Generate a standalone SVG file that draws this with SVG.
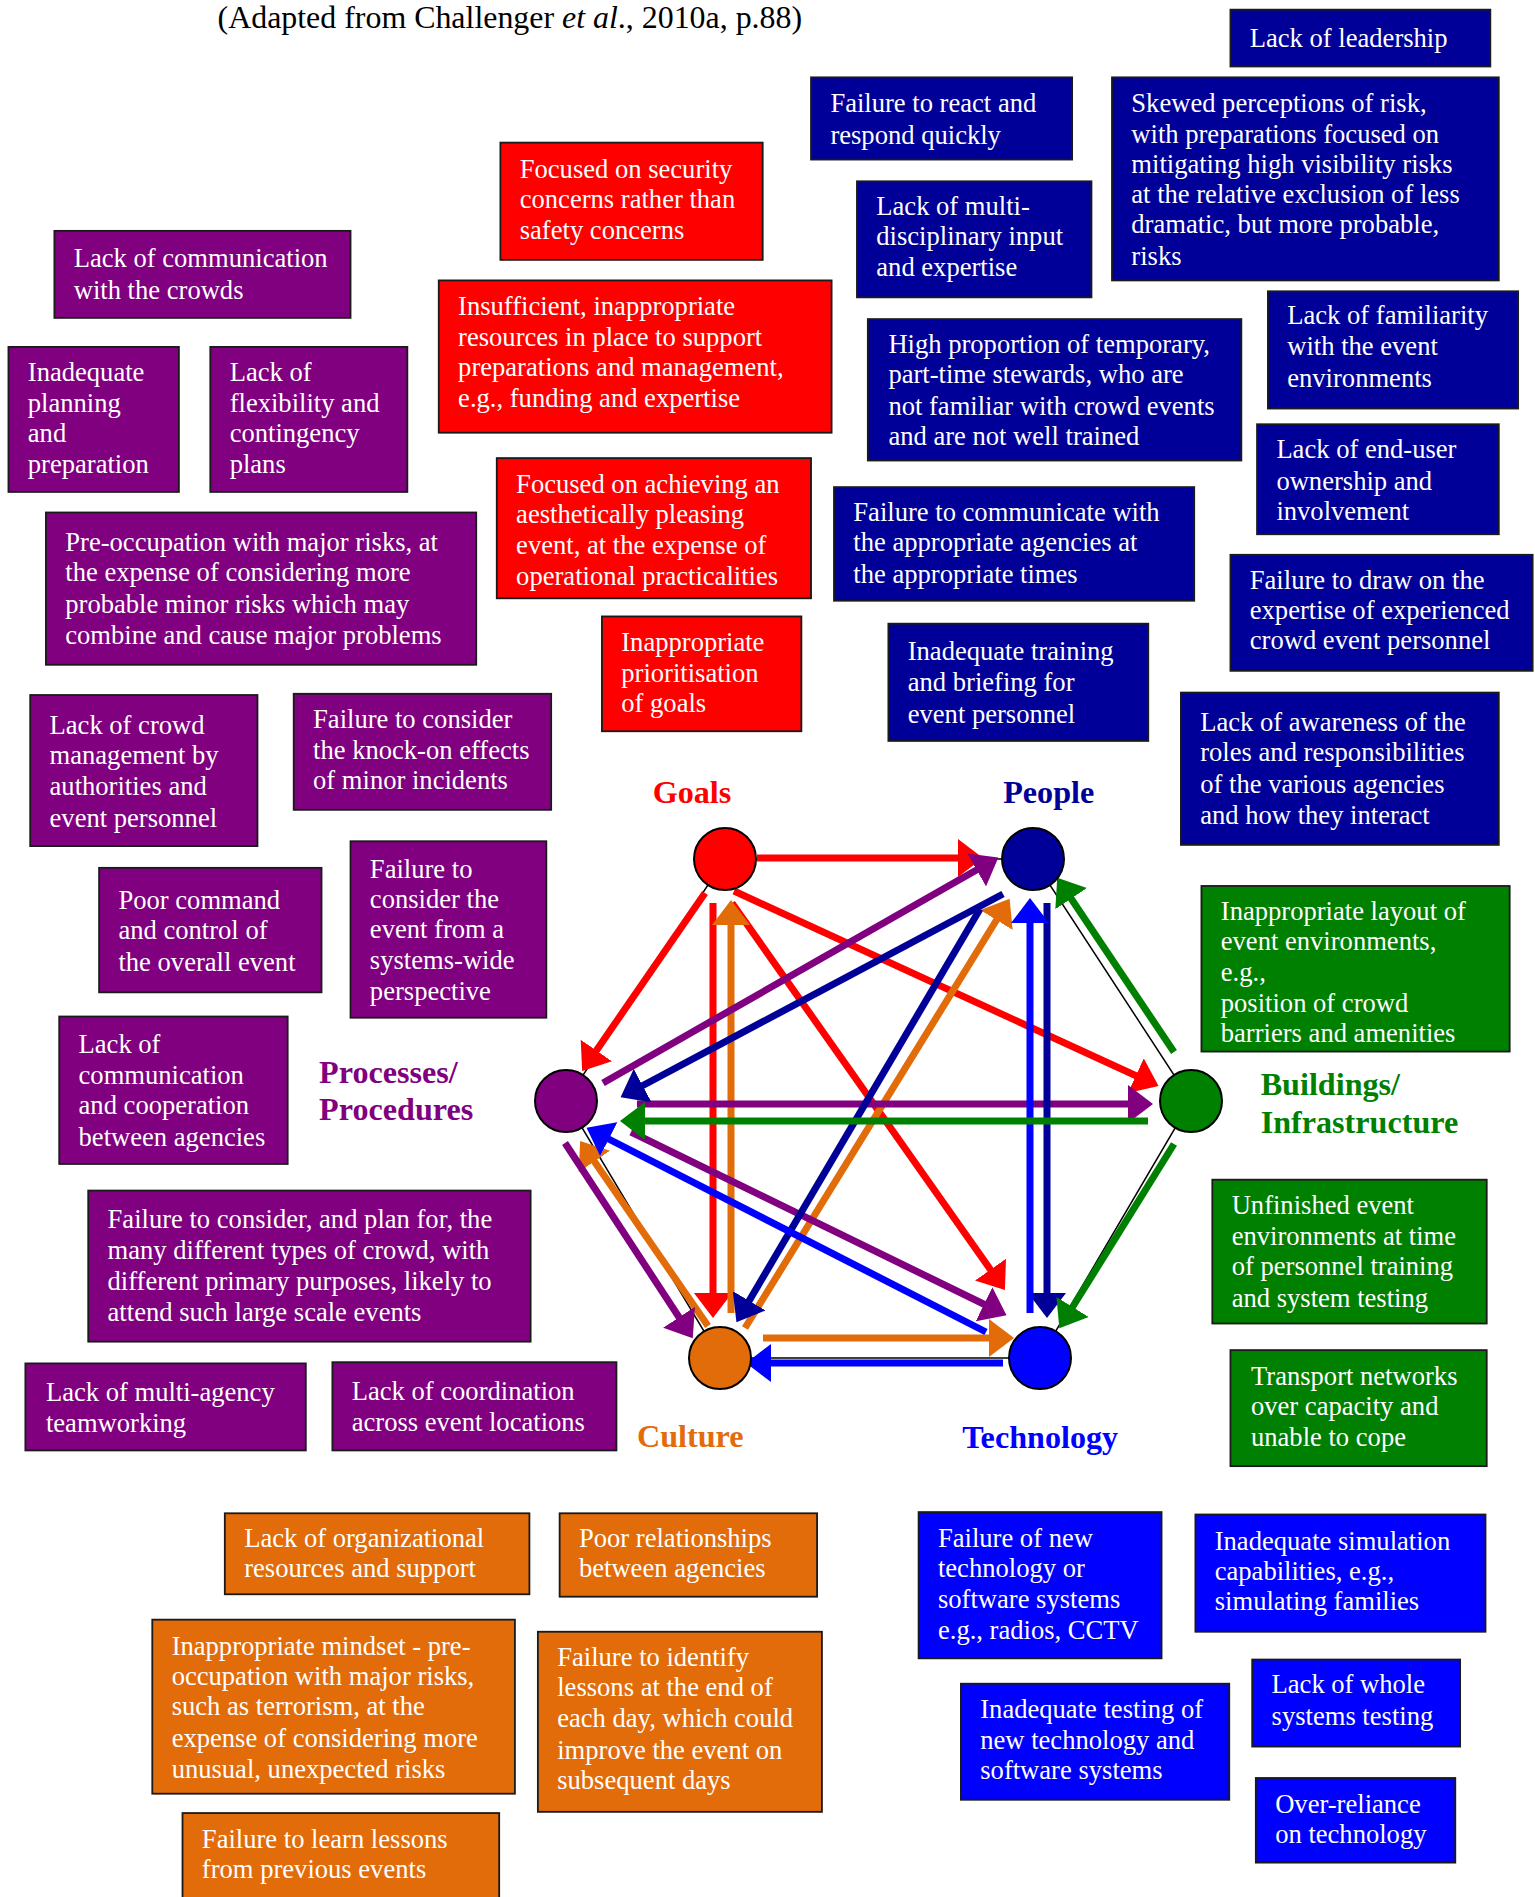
<svg xmlns="http://www.w3.org/2000/svg" width="1535" height="1897" viewBox="0 0 1535 1897">
<style>
.t{font-family:"Liberation Serif","Times New Roman",serif;font-size:22px;fill:#fff}
.lb{font-family:"Liberation Serif","Times New Roman",serif;font-size:26.6px;font-weight:bold}
.title{font-family:"Liberation Serif","Times New Roman",serif;font-size:26.4px;fill:#000}
.bx{stroke:#1a1a1a;stroke-width:1.5}
.pu{fill:#800080}.re{fill:#FF0000}.nv{fill:#000099}.gr{fill:#008000}.or{fill:#E36C0A}.bl{fill:#0000FF}
.c{stroke-width:7;fill:none}
.hex{stroke:#000;stroke-width:1.5;fill:none}
.node{stroke:#000;stroke-width:2}
</style>
<defs>
<marker id="mr" markerUnits="userSpaceOnUse" markerWidth="26" markerHeight="38" refX="20" refY="19" orient="auto"><path d="M0,0 L25,19 L0,38 Z" fill="#FF0000"/></marker>
<marker id="mo" markerUnits="userSpaceOnUse" markerWidth="26" markerHeight="38" refX="20" refY="19" orient="auto"><path d="M0,0 L25,19 L0,38 Z" fill="#E36C0A"/></marker>
<marker id="mp" markerUnits="userSpaceOnUse" markerWidth="26" markerHeight="38" refX="20" refY="19" orient="auto"><path d="M0,0 L25,19 L0,38 Z" fill="#800080"/></marker>
<marker id="mn" markerUnits="userSpaceOnUse" markerWidth="26" markerHeight="38" refX="20" refY="19" orient="auto"><path d="M0,0 L25,19 L0,38 Z" fill="#000099"/></marker>
<marker id="mb" markerUnits="userSpaceOnUse" markerWidth="26" markerHeight="38" refX="20" refY="19" orient="auto"><path d="M0,0 L25,19 L0,38 Z" fill="#0000FF"/></marker>
<marker id="mg" markerUnits="userSpaceOnUse" markerWidth="26" markerHeight="38" refX="20" refY="19" orient="auto"><path d="M0,0 L25,19 L0,38 Z" fill="#008000"/></marker>
</defs>
<rect width="1535" height="1897" fill="#fff"/>

<g id="hexagon">
<path class="hex" d="M725,859 L1033,859 L1191,1101 L1040,1358 L720,1358 L566,1101 Z"/>
</g>

<g id="connectors">
<path class="c" stroke="#FF0000" marker-end="url(#mr)" d="M757,858 L978,858"/>
<path class="c" stroke="#FF0000" marker-end="url(#mr)" d="M705,893 L585,1067"/>
<path class="c" stroke="#FF0000" marker-end="url(#mr)" d="M713,903 L713,1313"/>
<path class="c" stroke="#FF0000" marker-end="url(#mr)" d="M734,891 L1154,1084"/>
<path class="c" stroke="#FF0000" marker-end="url(#mr)" d="M732,903 L1002,1286"/>
<path class="c" stroke="#E36C0A" marker-end="url(#mo)" d="M731,1313 L731,905"/>
<path class="c" stroke="#E36C0A" marker-end="url(#mo)" d="M745,1328 L1007,903"/>
<path class="c" stroke="#E36C0A" marker-end="url(#mo)" d="M708,1326 L583,1145"/>
<path class="c" stroke="#E36C0A" marker-end="url(#mo)" d="M763,1338 L1009,1338"/>
<path class="c" stroke="#800080" marker-end="url(#mp)" d="M603,1083 L994,860"/>
<path class="c" stroke="#800080" marker-end="url(#mp)" d="M637,1104 L1148,1104"/>
<path class="c" stroke="#800080" marker-end="url(#mp)" d="M631,1132 L1002,1313"/>
<path class="c" stroke="#800080" marker-end="url(#mp)" d="M565,1143 L690,1334"/>
<path class="c" stroke="#000099" marker-end="url(#mn)" d="M1003,894 L625,1095"/>
<path class="c" stroke="#000099" marker-end="url(#mn)" d="M980,909 L739,1318"/>
<path class="c" stroke="#000099" marker-end="url(#mn)" d="M1047,903 L1047,1313"/>
<path class="c" stroke="#0000FF" marker-end="url(#mb)" d="M1030,1313 L1030,903"/>
<path class="c" stroke="#0000FF" marker-end="url(#mb)" d="M986,1332 L591,1130"/>
<path class="c" stroke="#0000FF" marker-end="url(#mb)" d="M1003,1363 L751,1363"/>
<path class="c" stroke="#008000" marker-end="url(#mg)" d="M1174,1052 L1060,882"/>
<path class="c" stroke="#008000" marker-end="url(#mg)" d="M1148,1121 L625,1121"/>
<path class="c" stroke="#008000" marker-end="url(#mg)" d="M1174,1144 L1062,1324"/>
</g>

<g id="node-goals"><circle class="node" cx="725" cy="859" r="31" fill="#FF0000"/></g>
<g id="node-people"><circle class="node" cx="1033" cy="859" r="31" fill="#000099"/></g>
<g id="node-processes"><circle class="node" cx="566" cy="1101" r="31" fill="#800080"/></g>
<g id="node-buildings"><circle class="node" cx="1191" cy="1101" r="31" fill="#008000"/></g>
<g id="node-culture"><circle class="node" cx="720" cy="1358" r="31" fill="#E36C0A"/></g>
<g id="node-technology"><circle class="node" cx="1040" cy="1358" r="31" fill="#0000FF"/></g>

<g transform="scale(1.2087)">
<text class="title" x="180" y="23">(Adapted from Challenger <tspan font-style="italic">et al</tspan>., 2010a, p.88)</text>

<g id="label-goals"><text class="lb" x="540" y="664" fill="#FF0000">Goals</text></g>
<g id="label-people"><text class="lb" x="830" y="664" fill="#000099">People</text></g>
<g id="label-processes"><text class="lb" x="264" y="896" fill="#800080">Processes/</text><text class="lb" x="264" y="927" fill="#800080">Procedures</text></g>
<g id="label-buildings"><text class="lb" x="1043" y="906" fill="#008000">Buildings/</text><text class="lb" x="1043" y="937" fill="#008000">Infrastructure</text></g>
<g id="label-culture"><text class="lb" x="527" y="1197" fill="#E36C0A">Culture</text></g>
<g id="label-technology"><text class="lb" x="796" y="1198" fill="#0000FF">Technology</text></g>

<!-- Purple -->
<g id="p1"><rect class="bx pu" x="45" y="191" width="245" height="72"/><text class="t" x="61" y="221">Lack of communication</text><text class="t" x="61" y="247">with the crowds</text></g>
<g id="p2"><rect class="bx pu" x="7" y="287" width="141" height="120"/><text class="t" x="23" y="315">Inadequate</text><text class="t" x="23" y="341">planning</text><text class="t" x="23" y="366">and</text><text class="t" x="23" y="391">preparation</text></g>
<g id="p3"><rect class="bx pu" x="174" y="287" width="163" height="120"/><text class="t" x="190" y="315">Lack of</text><text class="t" x="190" y="341">flexibility and</text><text class="t" x="190" y="366">contingency</text><text class="t" x="190" y="391">plans</text></g>
<g id="p4"><rect class="bx pu" x="38" y="424" width="356" height="126"/><text class="t" x="54" y="456">Pre-occupation with major risks, at</text><text class="t" x="54" y="481">the expense of considering more</text><text class="t" x="54" y="507">probable minor risks which may</text><text class="t" x="54" y="533">combine and cause major problems</text></g>
<g id="p5"><rect class="bx pu" x="25" y="575" width="188" height="125"/><text class="t" x="41" y="607">Lack of crowd</text><text class="t" x="41" y="632">management by</text><text class="t" x="41" y="658">authorities and</text><text class="t" x="41" y="684">event personnel</text></g>
<g id="p6"><rect class="bx pu" x="243" y="574" width="213" height="96"/><text class="t" x="259" y="602">Failure to consider</text><text class="t" x="259" y="628">the knock-on effects</text><text class="t" x="259" y="653">of minor incidents</text></g>
<g id="p7"><rect class="bx pu" x="82" y="718" width="184" height="103"/><text class="t" x="98" y="752">Poor command</text><text class="t" x="98" y="777">and control of</text><text class="t" x="98" y="803">the overall event</text></g>
<g id="p8"><rect class="bx pu" x="290" y="696" width="162" height="146"/><text class="t" x="306" y="726">Failure to</text><text class="t" x="306" y="751">consider the</text><text class="t" x="306" y="776">event from a</text><text class="t" x="306" y="802">systems-wide</text><text class="t" x="306" y="827">perspective</text></g>
<g id="p9"><rect class="bx pu" x="49" y="841" width="189" height="122"/><text class="t" x="65" y="871">Lack of</text><text class="t" x="65" y="897">communication</text><text class="t" x="65" y="922">and cooperation</text><text class="t" x="65" y="948">between agencies</text></g>
<g id="p10"><rect class="bx pu" x="73" y="985" width="366" height="125"/><text class="t" x="89" y="1016">Failure to consider, and plan for, the</text><text class="t" x="89" y="1042">many different types of crowd, with</text><text class="t" x="89" y="1067">different primary purposes, likely to</text><text class="t" x="89" y="1093">attend such large scale events</text></g>
<g id="p11"><rect class="bx pu" x="21" y="1128" width="232" height="72"/><text class="t" x="38" y="1159">Lack of multi-agency</text><text class="t" x="38" y="1185">teamworking</text></g>
<g id="p12"><rect class="bx pu" x="275" y="1127" width="235" height="73"/><text class="t" x="291" y="1158">Lack of coordination</text><text class="t" x="291" y="1184">across event locations</text></g>

<!-- Red -->
<g id="r1"><rect class="bx re" x="414" y="118" width="217" height="97"/><text class="t" x="430" y="147">Focused on security</text><text class="t" x="430" y="172">concerns rather than</text><text class="t" x="430" y="198">safety concerns</text></g>
<g id="r2"><rect class="bx re" x="363" y="232" width="325" height="126"/><text class="t" x="379" y="261">Insufficient, inappropriate</text><text class="t" x="379" y="286">resources in place to support</text><text class="t" x="379" y="311">preparations and management,</text><text class="t" x="379" y="337">e.g., funding and expertise</text></g>
<g id="r3"><rect class="bx re" x="411" y="379" width="260" height="116"/><text class="t" x="427" y="408">Focused on achieving an</text><text class="t" x="427" y="433">aesthetically pleasing</text><text class="t" x="427" y="458">event, at the expense of</text><text class="t" x="427" y="484">operational practicalities</text></g>
<g id="r4"><rect class="bx re" x="498" y="510" width="165" height="95"/><text class="t" x="514" y="539">Inappropriate</text><text class="t" x="514" y="564">prioritisation</text><text class="t" x="514" y="589">of goals</text></g>

<!-- Navy -->
<g id="n1"><rect class="bx nv" x="1018" y="8" width="215" height="47"/><text class="t" x="1034" y="39">Lack of leadership</text></g>
<g id="n2"><rect class="bx nv" x="671" y="64" width="216" height="68"/><text class="t" x="687" y="93">Failure to react and</text><text class="t" x="687" y="119">respond quickly</text></g>
<g id="n3"><rect class="bx nv" x="920" y="64" width="320" height="168"/><text class="t" x="936" y="93">Skewed perceptions of risk,</text><text class="t" x="936" y="118">with preparations focused on</text><text class="t" x="936" y="143">mitigating high visibility risks</text><text class="t" x="936" y="168">at the relative exclusion of less</text><text class="t" x="936" y="193">dramatic, but more probable,</text><text class="t" x="936" y="219">risks</text></g>
<g id="n4"><rect class="bx nv" x="709" y="150" width="194" height="96"/><text class="t" x="725" y="178">Lack of multi-</text><text class="t" x="725" y="203">disciplinary input</text><text class="t" x="725" y="228">and expertise</text></g>
<g id="n5"><rect class="bx nv" x="718" y="264" width="309" height="117"/><text class="t" x="735" y="292">High proportion of temporary,</text><text class="t" x="735" y="317">part-time stewards, who are</text><text class="t" x="735" y="343">not familiar with crowd events</text><text class="t" x="735" y="368">and are not well trained</text></g>
<g id="n6"><rect class="bx nv" x="1049" y="241" width="207" height="97"/><text class="t" x="1065" y="268">Lack of familiarity</text><text class="t" x="1065" y="294">with the event</text><text class="t" x="1065" y="320">environments</text></g>
<g id="n7"><rect class="bx nv" x="1040" y="351" width="200" height="91"/><text class="t" x="1056" y="379">Lack of end-user</text><text class="t" x="1056" y="405">ownership and</text><text class="t" x="1056" y="430">involvement</text></g>
<g id="n8"><rect class="bx nv" x="690" y="403" width="298" height="94"/><text class="t" x="706" y="431">Failure to communicate with</text><text class="t" x="706" y="456">the appropriate agencies at</text><text class="t" x="706" y="482">the appropriate times</text></g>
<g id="n9"><rect class="bx nv" x="1018" y="459" width="250" height="96"/><text class="t" x="1034" y="487">Failure to draw on the</text><text class="t" x="1034" y="512">expertise of experienced</text><text class="t" x="1034" y="537">crowd event personnel</text></g>
<g id="n10"><rect class="bx nv" x="735" y="516" width="215" height="97"/><text class="t" x="751" y="546">Inadequate training</text><text class="t" x="751" y="572">and briefing for</text><text class="t" x="751" y="598">event personnel</text></g>
<g id="n11"><rect class="bx nv" x="977" y="573" width="263" height="126"/><text class="t" x="993" y="605">Lack of awareness of the</text><text class="t" x="993" y="630">roles and responsibilities</text><text class="t" x="993" y="656">of the various agencies</text><text class="t" x="993" y="682">and how they interact</text></g>

<!-- Green -->
<g id="g1"><rect class="bx gr" x="994" y="733" width="255" height="137"/><text class="t" x="1010" y="761">Inappropriate layout of</text><text class="t" x="1010" y="786">event environments,</text><text class="t" x="1010" y="812">e.g.,</text><text class="t" x="1010" y="837">position of crowd</text><text class="t" x="1010" y="862">barriers and amenities</text></g>
<g id="g2"><rect class="bx gr" x="1003" y="976" width="227" height="119"/><text class="t" x="1019" y="1004">Unfinished event</text><text class="t" x="1019" y="1030">environments at time</text><text class="t" x="1019" y="1055">of personnel training</text><text class="t" x="1019" y="1081">and system testing</text></g>
<g id="g3"><rect class="bx gr" x="1018" y="1117" width="212" height="96"/><text class="t" x="1035" y="1146">Transport networks</text><text class="t" x="1035" y="1171">over capacity and</text><text class="t" x="1035" y="1196">unable to cope</text></g>

<!-- Orange -->
<g id="o1"><rect class="bx or" x="186" y="1252" width="252" height="67"/><text class="t" x="202" y="1280">Lack of organizational</text><text class="t" x="202" y="1305">resources and support</text></g>
<g id="o2"><rect class="bx or" x="463" y="1252" width="213" height="69"/><text class="t" x="479" y="1280">Poor relationships</text><text class="t" x="479" y="1305">between agencies</text></g>
<g id="o3"><rect class="bx or" x="126" y="1340" width="300" height="144"/><text class="t" x="142" y="1369">Inappropriate mindset - pre-</text><text class="t" x="142" y="1394">occupation with major risks,</text><text class="t" x="142" y="1419">such as terrorism, at the</text><text class="t" x="142" y="1445">expense of considering more</text><text class="t" x="142" y="1471">unusual, unexpected risks</text></g>
<g id="o4"><rect class="bx or" x="445" y="1350" width="235" height="149"/><text class="t" x="461" y="1378">Failure to identify</text><text class="t" x="461" y="1403">lessons at the end of</text><text class="t" x="461" y="1429">each day, which could</text><text class="t" x="461" y="1455">improve the event on</text><text class="t" x="461" y="1480">subsequent days</text></g>
<g id="o5"><rect class="bx or" x="151" y="1500" width="262" height="80"/><text class="t" x="167" y="1529">Failure to learn lessons</text><text class="t" x="167" y="1554">from previous events</text></g>

<!-- Blue -->
<g id="b1"><rect class="bx bl" x="760" y="1251" width="201" height="121"/><text class="t" x="776" y="1280">Failure of new</text><text class="t" x="776" y="1305">technology or</text><text class="t" x="776" y="1330">software systems</text><text class="t" x="776" y="1356">e.g., radios, CCTV</text></g>
<g id="b2"><rect class="bx bl" x="989" y="1253" width="240" height="97"/><text class="t" x="1005" y="1282">Inadequate simulation</text><text class="t" x="1005" y="1307">capabilities, e.g.,</text><text class="t" x="1005" y="1332">simulating families</text></g>
<g id="b3"><rect class="bx bl" x="1036" y="1373" width="172" height="72"/><text class="t" x="1052" y="1401">Lack of whole</text><text class="t" x="1052" y="1427">systems testing</text></g>
<g id="b4"><rect class="bx bl" x="795" y="1393" width="222" height="96"/><text class="t" x="811" y="1421">Inadequate testing of</text><text class="t" x="811" y="1447">new technology and</text><text class="t" x="811" y="1472">software systems</text></g>
<g id="b5"><rect class="bx bl" x="1039" y="1471" width="165" height="70"/><text class="t" x="1055" y="1500">Over-reliance</text><text class="t" x="1055" y="1525">on technology</text></g>
</g>
</svg>
